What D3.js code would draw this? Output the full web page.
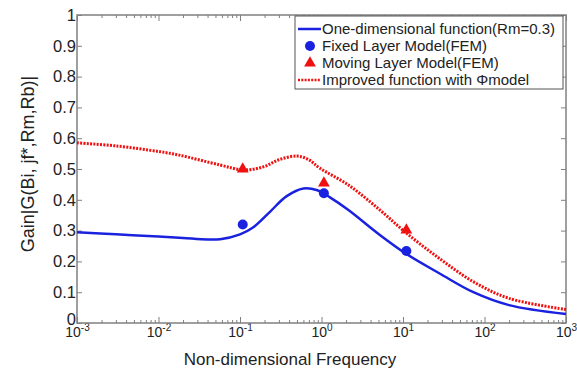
<!DOCTYPE html>
<html>
<head>
<meta charset="utf-8">
<script src="https://cdn.jsdelivr.net/npm/d3@7"></script>
<style>
  body { margin: 0; background: #fff; }
  text { font-family: "Liberation Sans", Arial, sans-serif; fill: #222; }
</style>
</head>
<body>
<div id="viz"></div>
<script>
//-------Data--------------------------------
var oneDimFreq = [0.001, 0.003, 0.01, 0.02, 0.04, 0.057, 0.1, 0.146, 0.233, 0.374, 0.6, 0.87, 1.27, 2.14, 5.2, 10.9, 28.5, 73, 200, 1000];
var oneDimGain = [0.295, 0.288, 0.281, 0.276, 0.271, 0.272, 0.288, 0.311, 0.361, 0.412, 0.437, 0.432, 0.408, 0.367, 0.286, 0.225, 0.160, 0.100, 0.058, 0.029];

var improvedFreq = [0.001, 0.003, 0.0105, 0.018, 0.057, 0.11, 0.193, 0.3, 0.5, 0.7, 0.95, 2.14, 5.2, 11.1, 28.5, 73, 200, 1000];
var improvedGain = [0.585, 0.575, 0.556, 0.545, 0.513, 0.497, 0.507, 0.530, 0.542, 0.530, 0.503, 0.448, 0.367, 0.291, 0.208, 0.134, 0.080, 0.044];

var femFreq = [0.108, 1.07, 11.0];
var fixedGain = [0.320, 0.421, 0.234];
var movingGain = [0.500, 0.454, 0.302];

var xTickExp = [-3, -2, -1, 0, 1, 2, 3];
var yTicks = [0, 0.1, 0.2, 0.3, 0.4, 0.5, 0.6, 0.7, 0.8, 0.9, 1];

var legendLabels = [
  "One-dimensional function(Rm=0.3)",
  "Fixed Layer Model(FEM)",
  "Moving Layer Model(FEM)",
  "Improved function with \u03A6model"
];

//---------------------------------
var width = 577,
    height = 369;
var margin = {top: 15, right: 11, bottom: 46, left: 77};
var plotWidth = width - margin.left - margin.right;
var plotHeight = height - margin.top - margin.bottom;

var blue = "#1a22e0", red = "#f01010", axisColor = "#808080";

var svg = d3.select("#viz")
  .append("svg")
    .attr("width", width)
    .attr("height", height);

var container = svg.append("g").attr("transform", "translate(" + margin.left + "," + margin.top + ")");

//------Scales & axes-----------
var xScale = d3.scaleLog().domain([1e-3, 1e3]).range([0, plotWidth]);
var yScale = d3.scaleLinear().domain([0, 1]).range([plotHeight, 0]);

var minorTicks = [];
xTickExp.slice(0, -1).forEach(function(e) {
  for (var k = 2; k <= 9; k++) minorTicks.push(k * Math.pow(10, e));
});
var majorTicks = xTickExp.map(function(e) { return Math.pow(10, e); });

function styleAxis(g) {
  g.select(".domain").remove();
  g.selectAll("line").attr("stroke", axisColor);
}

// minor ticks bottom/top
container.append("g")
  .attr("transform", "translate(0," + plotHeight + ")")
  .call(d3.axisBottom(xScale).tickValues(minorTicks).tickSize(-3).tickFormat(""))
  .call(styleAxis);
container.append("g")
  .call(d3.axisTop(xScale).tickValues(minorTicks).tickSize(-3).tickFormat(""))
  .call(styleAxis);

// major ticks bottom with labels (10 + superscript exponent)
var gX = container.append("g")
  .attr("transform", "translate(0," + plotHeight + ")")
  .call(d3.axisBottom(xScale).tickValues(majorTicks).tickSize(-6).tickFormat(""))
  .call(styleAxis);
gX.selectAll(".tick text").remove();
gX.selectAll(".tick").append("text")
  .attr("y", 14)
  .attr("text-anchor", "middle")
  .attr("font-size", 14)
  .each(function(d, i) {
    var t = d3.select(this);
    t.append("tspan").text("10");
    t.append("tspan").attr("font-size", 10).attr("dy", "-0.6em").text(xTickExp[i]);
  });
container.append("g")
  .call(d3.axisTop(xScale).tickValues(majorTicks).tickSize(-6).tickFormat(""))
  .call(styleAxis);

// y axes
var gY = container.append("g")
  .call(d3.axisLeft(yScale).tickValues(yTicks).tickSize(-5).tickPadding(3)
    .tickFormat(function(d) { return (d === 0 || d === 1) ? d : d.toFixed(1); }))
  .call(styleAxis);
gY.selectAll(".tick text")
  .attr("font-size", 16.5)
  .attr("fill", "#222")
  .attr("x", -1)
  .attr("dy", function(d) { return d === 0 ? "0.1em" : "0.32em"; });
container.append("g")
  .attr("transform", "translate(" + plotWidth + ",0)")
  .call(d3.axisRight(yScale).tickValues(yTicks).tickSize(-5).tickFormat(""))
  .call(styleAxis);

// plot box
container.append("rect")
  .attr("width", plotWidth)
  .attr("height", plotHeight)
  .attr("fill", "none")
  .attr("stroke", axisColor)
  .attr("stroke-width", 1.5);

// axis titles
svg.append("text")
  .attr("x", 290)
  .attr("y", 365)
  .attr("text-anchor", "middle")
  .attr("font-size", 17)
  .text("Non-dimensional Frequency");

svg.append("text")
  .attr("transform", "translate(34,164) rotate(-90)")
  .attr("text-anchor", "middle")
  .attr("font-size", 18)
  .text("Gain|G(Bi, jf*,Rm,Rb)|");

//------Curves--------------------
var line = d3.line()
  .x(function(d) { return xScale(d[0]); })
  .y(function(d) { return yScale(d[1]); })
  .curve(d3.curveCatmullRom.alpha(0.5));

container.append("path")
  .datum(oneDimFreq.map(function(f, i) { return [f, oneDimGain[i]]; }))
  .attr("d", line)
  .attr("fill", "none")
  .attr("stroke", blue)
  .attr("stroke-width", 2.5);

container.append("path")
  .datum(improvedFreq.map(function(f, i) { return [f, improvedGain[i]]; }))
  .attr("d", line)
  .attr("fill", "none")
  .attr("stroke", red)
  .attr("stroke-width", 3)
  .attr("stroke-dasharray", "2,1.3");

// FEM markers
container.append("g").selectAll("circle")
  .data(femFreq.map(function(f, i) { return [f, fixedGain[i]]; }))
  .enter().append("circle")
    .attr("cx", function(d) { return xScale(d[0]); })
    .attr("cy", function(d) { return yScale(d[1]); })
    .attr("r", 5)
    .attr("fill", blue);

var tri = d3.symbol().type(d3.symbolTriangle).size(60);
container.append("g").selectAll("path")
  .data(femFreq.map(function(f, i) { return [f, movingGain[i]]; }))
  .enter().append("path")
    .attr("d", tri)
    .attr("transform", function(d) { return "translate(" + xScale(d[0]) + "," + yScale(d[1]) + ")"; })
    .attr("fill", red);

//------Legend--------------------
var legend = svg.append("g").attr("transform", "translate(295,16)");
legend.append("rect")
  .attr("width", 268)
  .attr("height", 73)
  .attr("fill", "#fff")
  .attr("stroke", "#555")
  .attr("stroke-width", 1);

var rowY = [13, 30, 47, 64];
legendLabels.forEach(function(label, i) {
  var row = legend.append("g").attr("transform", "translate(0," + rowY[i] + ")");
  if (i === 0) {
    row.append("line").attr("x1", 3).attr("x2", 26).attr("stroke", blue).attr("stroke-width", 2.5);
  } else if (i === 1) {
    row.append("circle").attr("cx", 15).attr("r", 5).attr("fill", blue);
  } else if (i === 2) {
    row.append("path").attr("d", tri).attr("transform", "translate(15,0)").attr("fill", red);
  } else {
    row.append("line").attr("x1", 3).attr("x2", 26).attr("stroke", red)
      .attr("stroke-width", 2.5).attr("stroke-dasharray", "2,1.3");
  }
  row.append("text")
    .attr("x", 27)
    .attr("dy", "0.35em")
    .attr("font-size", 15)
    .text(label);
});
</script>
</body>
</html>
